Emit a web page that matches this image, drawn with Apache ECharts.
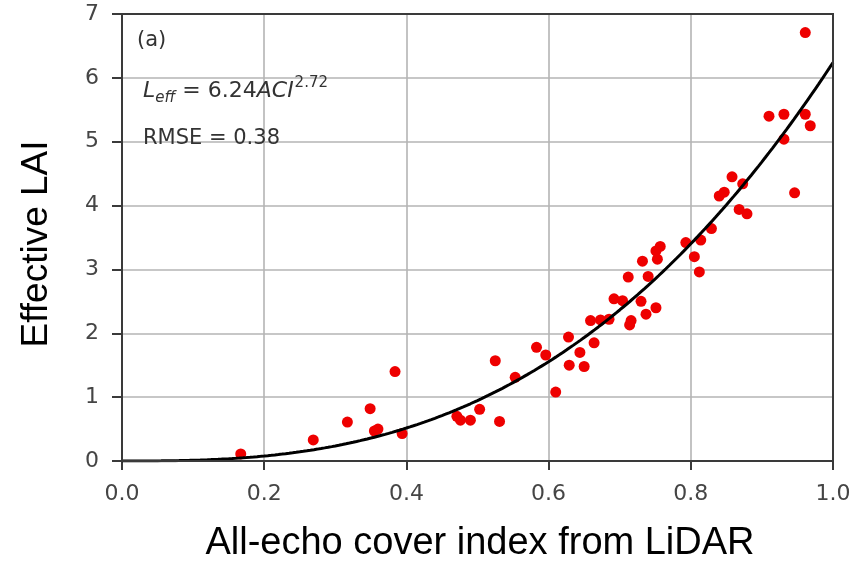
<!DOCTYPE html>
<html>
<head>
<meta charset="utf-8">
<script src="https://cdn.jsdelivr.net/npm/echarts@6/dist/echarts.min.js"></script>
<style>
  html, body { margin: 0; padding: 0; background: #fff; }
  #chart { width: 859px; height: 561px; }
</style>
</head>
<body>
<div id="chart"></div>
<script>
// Observed all-echo cover index (ACI) from LiDAR and measured effective LAI
const aciValues = [
  0.167, 0.269, 0.317, 0.349, 0.355, 0.360, 0.384, 0.394, 0.471, 0.476,
  0.490, 0.503, 0.525, 0.531, 0.553, 0.583, 0.596, 0.610, 0.628, 0.629,
  0.644, 0.650, 0.659, 0.664, 0.673, 0.685, 0.692, 0.704, 0.712, 0.714,
  0.716, 0.730, 0.732, 0.737, 0.740, 0.751, 0.751, 0.753, 0.757, 0.793,
  0.805, 0.812, 0.814, 0.829, 0.840, 0.847, 0.858, 0.868, 0.873, 0.879,
  0.910, 0.931, 0.931, 0.946, 0.961, 0.961, 0.968
];
const laiValues = [
  0.11, 0.33, 0.61, 0.82, 0.47, 0.50, 1.40, 0.43, 0.70, 0.64,
  0.64, 0.81, 1.57, 0.62, 1.31, 1.78, 1.66, 1.08, 1.94, 1.50,
  1.70, 1.48, 2.20, 1.85, 2.21, 2.22, 2.54, 2.51, 2.88, 2.13,
  2.20, 2.50, 3.13, 2.30, 2.89, 2.40, 3.29, 3.16, 3.36, 3.42,
  3.20, 2.96, 3.46, 3.64, 4.15, 4.21, 4.45, 3.94, 4.34, 3.87,
  5.40, 5.43, 5.04, 4.20, 5.43, 6.71, 5.25
];

// Fitted power model: L_eff = a * ACI^b
const fitCoefA = 6.24;
const fitCoefB = 2.72;
const fitRmse = 0.38;
const panelTag = '(a)';

const xTicks = ['0.0', '0.2', '0.4', '0.6', '0.8', '1.0'];
const yTicks = ['0', '1', '2', '3', '4', '5', '6', '7'];

const xTitle = 'All-echo cover index from LiDAR';
const yTitle = 'Effective LAI';

const scatterData = aciValues.map((x, i) => [x, laiValues[i]]);

// model curve sampled along the ACI range
const curveData = [];
for (let i = 0; i <= 200; i++) {
  const x = i / 200;
  curveData.push([x, fitCoefA * Math.pow(x, fitCoefB)]);
}

const tickFont = { fontFamily: 'DejaVu Sans', fontSize: 22, color: '#454545' };

const chart = echarts.init(document.getElementById('chart'), null, { renderer: 'canvas' });
chart.setOption({
  animation: false,
  backgroundColor: '#ffffff',
  grid: { left: 122, right: 26, top: 14, bottom: 100, containLabel: false },
  xAxis: {
    type: 'value', min: 0, max: 1, interval: 0.2,
    axisLine: { show: true, onZero: false, lineStyle: { color: '#3a3a3a', width: 2 } },
    axisTick: { show: true, inside: false, length: 9, lineStyle: { color: '#3a3a3a', width: 2 } },
    axisLabel: Object.assign({
      margin: 22,
      formatter: v => xTicks[Math.round(v / 0.2)]
    }, tickFont),
    splitLine: { show: true, lineStyle: { color: '#b4b4b4', width: 1.6 } }
  },
  yAxis: {
    type: 'value', min: 0, max: 7, interval: 1,
    axisLine: { show: true, onZero: false, lineStyle: { color: '#3a3a3a', width: 2 } },
    axisTick: { show: true, inside: false, length: 10, lineStyle: { color: '#3a3a3a', width: 2 } },
    axisLabel: Object.assign({
      margin: 23,
      formatter: v => yTicks[Math.round(v)]
    }, tickFont),
    splitLine: { show: true, lineStyle: { color: '#b4b4b4', width: 1.6 } }
  },
  series: [
    {
      type: 'scatter',
      data: scatterData,
      symbol: 'circle',
      symbolSize: 11,
      itemStyle: { color: '#ee0000', opacity: 1 },
      z: 2
    },
    {
      type: 'line',
      data: curveData,
      showSymbol: false,
      smooth: false,
      lineStyle: { color: '#000000', width: 3 },
      z: 3
    }
  ],
  graphic: [
    // frame top and right edges
    {
      type: 'rect', silent: true, z: 10,
      shape: { x: 122, y: 14, width: 711, height: 447 },
      style: { fill: 'none', stroke: '#3a3a3a', lineWidth: 2 }
    },
    {
      type: 'text', left: 137, top: 30, z: 20,
      style: { text: panelTag, font: '21px "DejaVu Sans"', fill: '#333' }
    },
    {
      type: 'text', left: 143, top: 76, z: 20,
      style: {
        text: '{it|L}{sub|eff}{n| = ' + fitCoefA.toFixed(2) + '}{it|ACI}{sup|' + fitCoefB.toFixed(2) + '}',
        rich: {
          it: { font: 'italic 22px "DejaVu Sans"', fill: '#333', verticalAlign: 'bottom', lineHeight: 26 },
          n: { font: '22px "DejaVu Sans"', fill: '#333', verticalAlign: 'bottom', lineHeight: 26 },
          sub: { font: 'italic 15px "DejaVu Sans"', fill: '#333', verticalAlign: 'bottom', lineHeight: 22, padding: [0, 0, -4, 0] },
          sup: { font: '15px "DejaVu Sans"', fill: '#333', verticalAlign: 'top', lineHeight: 18, padding: [0, 0, 0, 1] }
        }
      }
    },
    {
      type: 'text', left: 143, top: 128, z: 20,
      style: { text: 'RMSE = ' + fitRmse.toFixed(2), font: '21px "DejaVu Sans"', fill: '#333' }
    },
    {
      type: 'text', x: 480, y: 544, z: 20,
      style: {
        text: xTitle, font: '38px "Liberation Sans"', fill: '#000',
        align: 'center', verticalAlign: 'middle'
      }
    },
    {
      type: 'text', x: 37, y: 244, rotation: Math.PI / 2, z: 20,
      style: {
        text: yTitle, font: '37px "Liberation Sans"', fill: '#000',
        align: 'center', verticalAlign: 'middle'
      }
    }
  ]
});
</script>
</body>
</html>
